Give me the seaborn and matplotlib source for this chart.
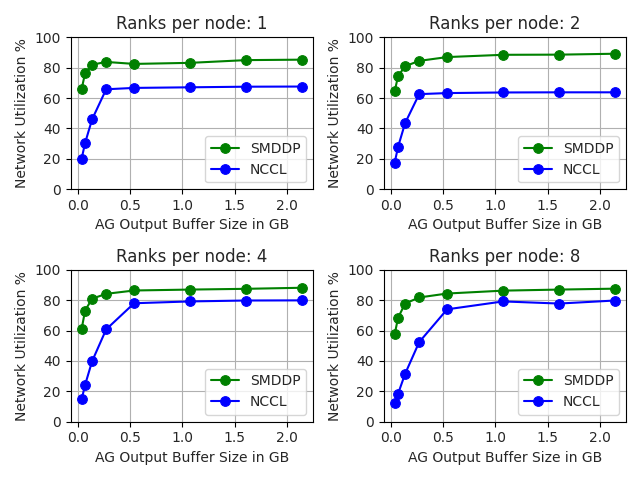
import numpy as np
import pandas as pd
import matplotlib
matplotlib.use("Agg")
import matplotlib.pyplot as plt
import seaborn as sns

# buffer sizes in GB
sizes = [0.034, 0.067, 0.134, 0.269, 0.537, 1.074, 1.611, 2.147]
ranks = [1, 2, 4, 8]

smddp = {
    1: [66.0, 76.5, 82.0, 83.8, 82.5, 83.2, 85.0, 85.3],
    2: [64.5, 74.5, 81.0, 84.5, 87.0, 88.5, 88.6, 89.2],
    4: [61.2, 73.2, 81.0, 84.2, 86.4, 87.0, 87.5, 88.2],
    8: [57.6, 68.5, 77.8, 81.8, 84.4, 86.3, 87.0, 87.6],
}
nccl = {
    1: [20.2, 30.5, 46.0, 65.8, 66.7, 67.1, 67.5, 67.6],
    2: [17.5, 28.0, 43.5, 62.6, 63.3, 63.7, 63.8, 63.8],
    4: [14.8, 24.3, 39.8, 60.8, 78.0, 79.2, 79.8, 79.9],
    8: [12.0, 18.5, 31.5, 52.4, 74.0, 79.2, 77.8, 79.8],
}

sns.set_style("whitegrid", {"axes.edgecolor": "black", "grid.color": "#b0b0b0",
                            "xtick.bottom": True, "ytick.left": True})
plt.rcParams['font.family'] = ['DejaVu Sans']

fig, axes = plt.subplots(2, 2, figsize=(6.41, 4.8), dpi=100)

for ax, r in zip(axes.flat, ranks):
    df = pd.DataFrame({"size": sizes, "SMDDP": smddp[r], "NCCL": nccl[r]})
    sns.lineplot(data=df, x="size", y="SMDDP", ax=ax, color="green", marker="o",
                 markersize=7, markeredgecolor="green", label="SMDDP")
    sns.lineplot(data=df, x="size", y="NCCL", ax=ax, color="blue", marker="o",
                 markersize=7, markeredgecolor="blue", label="NCCL")
    ax.set_ylim(0, 100)
    ax.set_xticks([0.0, 0.5, 1.0, 1.5, 2.0])
    ax.set_title("Ranks per node: %d" % r, fontsize=12)
    ax.set_xlabel("AG Output Buffer Size in GB", fontsize=10)
    ax.set_ylabel("Network Utilization %", fontsize=10)
    ax.tick_params(labelsize=10, length=3.5, color="black")
    for s in ax.spines.values():
        s.set_linewidth(0.8)
    ax.legend(loc="lower right", fontsize=10)

plt.tight_layout()
plt.savefig("out.png")
